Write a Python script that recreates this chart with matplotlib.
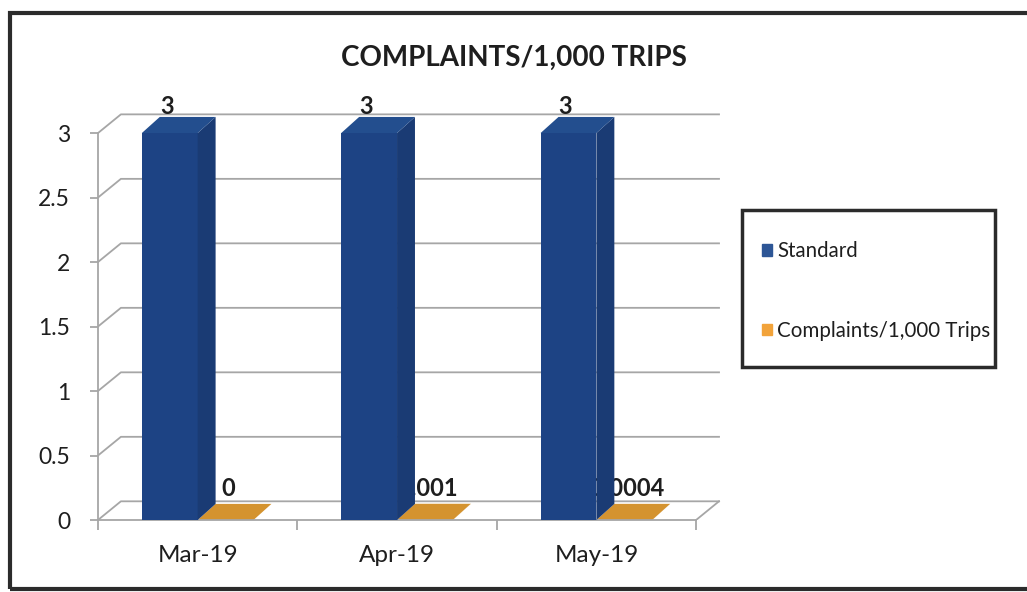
import numpy as np
import matplotlib.pyplot as plt
from matplotlib.patches import Polygon, Rectangle, Patch

# monthly values
months = ["Mar-19", "Apr-19", "May-19"]
standard = [3, 3, 3]
complaints = [0, 0.001, 0.0004]
complaint_labels = ["0", "0.001", "0.0004"]

plt.rcParams["font.family"] = ["Lato", "DejaVu Sans"]

BLUE = "#1d4384"
BLUE_SIDE = "#1a3b74"
BLUE_TOP = "#234e8e"
ORANGE = "#d08f2e"
ORANGE_TOP = "#d4932f"
GRID = "#a6a6a6"
TEXT = "#1e1e1e"

# depth of the floor/wall and of the bars, in data units
FDX, FDY = 0.115, 0.145
BDX, BDY = 0.09, 0.125
W = 0.28

fig = plt.figure(figsize=(10.27, 5.92), dpi=100)
ax = fig.add_axes([0.0954, 0.1216, 0.6115, 0.719])
ax.set_xlim(-0.5, 2.65)
ax.set_ylim(0, 3.3)

x = np.arange(len(months))

# back wall gridlines and floor
for v in np.arange(0, 3.01, 0.5):
    ax.plot([-0.5, -0.5 + FDX, 2.5 + FDX], [v, v + FDY, v + FDY],
            color=GRID, lw=1.3, zorder=1)
ax.plot([2.5, 2.5 + FDX], [0, FDY], color=GRID, lw=1.3, zorder=1)


def box3d(x0, h, color, side, top, z):
    ax.bar(x0, h, width=W, align="edge", color=color, lw=0, zorder=z)
    ax.add_patch(Polygon([(x0 + W, 0), (x0 + W + BDX, BDY),
                          (x0 + W + BDX, h + BDY), (x0 + W, h)],
                         closed=True, color=side, lw=0, zorder=z))
    ax.add_patch(Polygon([(x0, h), (x0 + BDX, h + BDY),
                          (x0 + W + BDX, h + BDY), (x0 + W, h)],
                         closed=True, color=top, lw=0, zorder=z))


for i in range(len(months)):
    box3d(x[i], complaints[i], ORANGE, ORANGE, ORANGE_TOP, 2)
    ax.text(x[i] + 0.155, complaints[i] + BDY + 0.03, complaint_labels[i],
            ha="center", va="bottom", fontsize=17, fontweight="bold",
            color=TEXT, zorder=3)
    box3d(x[i] - W, standard[i], BLUE, BLUE_SIDE, BLUE_TOP, 4)
    ax.text(x[i] - 0.155, standard[i] + BDY - 0.01, str(standard[i]),
            ha="center", va="bottom", fontsize=17, fontweight="bold",
            color=TEXT, zorder=5)

for s in ["top", "right"]:
    ax.spines[s].set_visible(False)
ax.spines["left"].set_bounds(0, 3)
ax.spines["bottom"].set_bounds(-0.5, 2.5)
for s in ["left", "bottom"]:
    ax.spines[s].set_color(GRID)
    ax.spines[s].set_linewidth(1.3)
    ax.spines[s].set_position(("data", -0.5) if s == "left" else ("data", 0))

ax.set_yticks(np.arange(0, 3.01, 0.5))
ax.set_yticklabels(["0", "0.5", "1", "1.5", "2", "2.5", "3"])
ax.tick_params(axis="y", direction="out", length=6, width=1.3, color=GRID,
               pad=14, labelsize=16.5, labelcolor=TEXT)
ax.set_xticks(x)
ax.set_xticklabels(months)
ax.set_xticks([-0.5, 0.5, 1.5, 2.5], minor=True)
ax.tick_params(axis="x", which="major", length=0, pad=18, labelsize=17.5,
               labelcolor=TEXT)
ax.tick_params(axis="x", which="minor", direction="out", length=7, width=1.3,
               color=GRID)

fig.text(0.5, 0.902, "COMPLAINTS/1,000 TRIPS", ha="center", va="center",
         fontsize=20, fontweight="bold", color=TEXT)

# legend with its own frame
fig.patches.append(Rectangle((742 / 1027, 1 - 367 / 592), 253 / 1027,
                             157 / 592, transform=fig.transFigure,
                             fill=False, ec="#2b2b2b", lw=2.5))
handles = [Patch(color="#2d5696", label="Standard"),
           Patch(color="#f2a33a", label="Complaints/1,000 Trips")]
fig.legend(handles=handles, loc="center left",
           bbox_to_anchor=(743 / 1027, 1 - 291 / 592), frameon=False,
           fontsize=14.8, handlelength=0.5, handleheight=0.5,
           handletextpad=0.25, labelspacing=2.9, labelcolor=TEXT)

# outer chart border
fig.patches.append(Rectangle((10 / 1027, 3 / 592), 1.05, 576 / 592,
                             transform=fig.transFigure, fill=False,
                             ec="#2b2b2b", lw=3))

fig.savefig("out.png", dpi=100)
